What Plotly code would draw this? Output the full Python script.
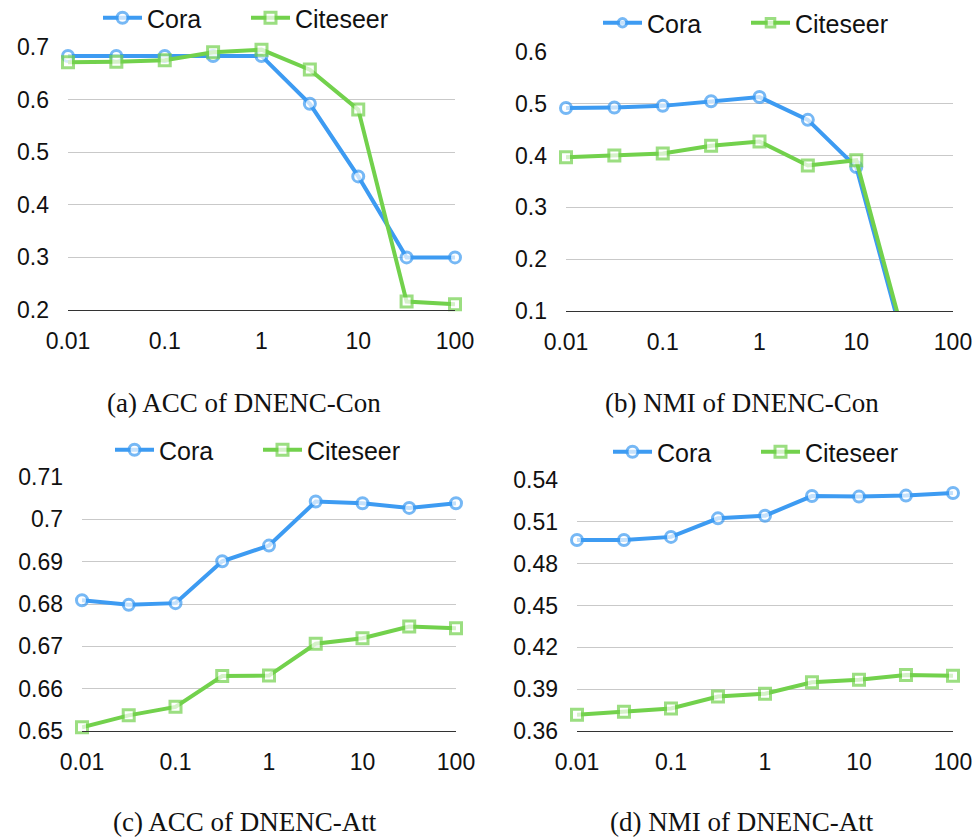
import plotly.graph_objects as go

# ---------------- data ----------------
x_vals = [0.01, 0.0316, 0.1, 0.316, 1, 3.16, 10, 31.6, 100]
x_tick_vals = [0.01, 0.1, 1, 10, 100]
x_tick_text = ["0.01", "0.1", "1", "10", "100"]

acc_con_cora = [0.683, 0.683, 0.683, 0.683, 0.683, 0.592, 0.454, 0.300, 0.300]
acc_con_citeseer = [0.671, 0.672, 0.675, 0.690, 0.695, 0.657, 0.581, 0.216, 0.211]
nmi_con_cora = [0.492, 0.493, 0.496, 0.505, 0.513, 0.469, 0.378, 0.033, 0.030]
nmi_con_citeseer = [0.397, 0.400, 0.404, 0.419, 0.427, 0.381, 0.391, 0.045, 0.040]
acc_att_cora = [0.6809, 0.6798, 0.6802, 0.6901, 0.6938, 0.7042, 0.7038, 0.7027, 0.7038]
acc_att_citeseer = [0.6509, 0.6537, 0.6557, 0.6630, 0.6631, 0.6706, 0.6719, 0.6747, 0.6743]
nmi_att_cora = [0.497, 0.497, 0.4992, 0.5125, 0.5144, 0.5285, 0.5281, 0.5288, 0.5307]
nmi_att_citeseer = [0.3716, 0.3738, 0.3762, 0.3847, 0.3867, 0.3950, 0.3967, 0.4001, 0.3996]

y_ticks_a = [0.2, 0.3, 0.4, 0.5, 0.6, 0.7]
y_text_a = ["0.2", "0.3", "0.4", "0.5", "0.6", "0.7"]
y_ticks_b = [0.1, 0.2, 0.3, 0.4, 0.5, 0.6]
y_text_b = ["0.1", "0.2", "0.3", "0.4", "0.5", "0.6"]
y_ticks_c = [0.65, 0.66, 0.67, 0.68, 0.69, 0.70, 0.71]
y_text_c = ["0.65", "0.66", "0.67", "0.68", "0.69", "0.7", "0.71"]
y_ticks_d = [0.36, 0.39, 0.42, 0.45, 0.48, 0.51, 0.54]
y_text_d = ["0.36", "0.39", "0.42", "0.45", "0.48", "0.51", "0.54"]

series_names = ["Cora", "Citeseer"]
captions = ["(a) ACC of DNENC-Con", "(b) NMI of DNENC-Con",
            "(c) ACC of DNENC-Att", "(d) NMI of DNENC-Att"]

# ---------------- style / layout ----------------
W, H = 979, 838
BLUE = "#3d9bf2"
GREEN = "#72d14c"
SANS = "Liberation Sans, Arial, sans-serif"
SERIF = "Liberation Serif, Times New Roman, serif"


def px(v):
    return v / W


def py(v):
    return 1 - v / H


panels = [
    # (cora, citeseer, yticks, ytext, x0, x1, ytop, ybottom, legend cx, legend cy, caption cx, caption cy)
    (acc_con_cora, acc_con_citeseer, y_ticks_a, y_text_a, 68, 455, 47, 310, 120, 18, 244, 403),
    (nmi_con_cora, nmi_con_citeseer, y_ticks_b, y_text_b, 566, 953, 52, 311, 620, 23, 742, 403),
    (acc_att_cora, acc_att_citeseer, y_ticks_c, y_text_c, 82, 456, 477, 731, 132, 450, 245, 822),
    (nmi_att_cora, nmi_att_citeseer, y_ticks_d, y_text_d, 577, 953, 480, 731, 630, 452, 742, 822),
]

fig = go.Figure()
layout = dict(
    width=W, height=H,
    margin=dict(l=0, r=0, t=0, b=0, autoexpand=False),
    paper_bgcolor="white", plot_bgcolor="white",
    font=dict(family=SANS, color="#111", size=23),
    annotations=[],
)

for i, (cora, cite, yt, ytx, x0, x1, ytop, ybot, lcx, lcy, ccx, ccy) in enumerate(panels):
    n = "" if i == 0 else str(i + 1)
    leg = "legend" if i == 0 else f"legend{i + 1}"
    for name, vals, color, sym in [("Cora", cora, BLUE, "circle"), ("Citeseer", cite, GREEN, "square")]:
        vis = [yt[0] - 1e-9 <= v <= yt[-1] + 1e-9 for v in vals]
        sizes = [11 if s else 0 for s in vis]
        fig.add_trace(go.Scatter(
            x=x_vals, y=vals, name=name, mode="lines+markers",
            xaxis="x" + n, yaxis="y" + n, legend=leg,
            cliponaxis=False,
            line=dict(color=color, width=4),
            marker=dict(symbol=sym, size=sizes, color="white",
                        line=dict(color=color, width=3)),
        ))
    layout["xaxis" + n] = dict(
        type="log", range=[-2, 2], domain=[px(x0), px(x1)],
        anchor="y" + n, tickvals=x_tick_vals, ticktext=x_tick_text,
        showgrid=False, zeroline=False, showline=True,
        linecolor="#333", linewidth=1, ticks="",
        ticklabelstandoff=10, tickfont=dict(size=23, family=SANS, color="#111"),
    )
    layout["yaxis" + n] = dict(
        range=[yt[0], yt[-1]], domain=[py(ybot), py(ytop)],
        anchor="x" + n, tickvals=yt, ticktext=ytx,
        showgrid=True, gridcolor="#c9c9c9", gridwidth=1,
        zeroline=False, showline=False, ticks="",
        ticklabelstandoff=18, tickfont=dict(size=23, family=SANS, color="#111"),
    )
    layout[leg] = dict(
        orientation="h", x=px(lcx - 22), xanchor="left",
        y=py(lcy), yanchor="middle", entrywidth=94, itemwidth=39,
        font=dict(size=25, family=SANS, color="#111"),
        bgcolor="rgba(0,0,0,0)", borderwidth=0,
    )
    layout["annotations"].append(dict(
        text=captions[i], x=px(ccx), y=py(ccy), xref="paper", yref="paper",
        xanchor="center", yanchor="middle", showarrow=False,
        font=dict(family=SERIF, size=27, color="#111"),
    ))

fig.update_layout(**layout)
fig.write_html("out.html", config={"displayModeBar": False},
               post_script="document.body.style.margin='0';document.body.style.overflow='hidden';")
